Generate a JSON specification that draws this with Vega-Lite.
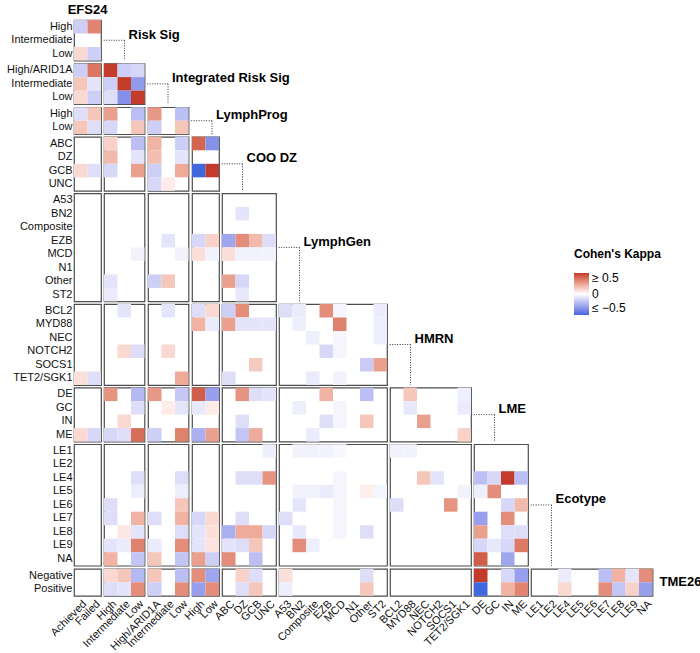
{
"$schema":"https://vega.github.io/schema/vega-lite/v6.json",
"padding":{"left":5,"top":3,"right":2,"bottom":2},
"config":{"font":"Liberation Sans","view":{"stroke":"#4d4d4d","strokeWidth":1.2},
"scale":{"bandPaddingInner":0,"bandPaddingOuter":0},
"axis":{"ticks":false,"domain":false,"grid":false,"labelFontSize":11,"labelColor":"#111","labelFont":"Liberation Sans"},
"axisY":{"labelPadding":2},"axisX":{"labelAngle":-45,"labelPadding":2}},
"datasets":{"kappa":[
{"rg":"Risk Sig","cg":"EFS24","r":"High","c":"Achieved","k":-0.15},{"rg":"Risk Sig","cg":"EFS24","r":"High","c":"Failed","k":0.32},{"rg":"Risk Sig","cg":"EFS24","r":"Low","c":"Achieved","k":0.1},{"rg":"Risk Sig","cg":"EFS24","r":"Low","c":"Failed","k":-0.15},
{"rg":"Integrated Risk Sig","cg":"EFS24","r":"High/ARID1A","c":"Achieved","k":-0.15},{"rg":"Integrated Risk Sig","cg":"EFS24","r":"High/ARID1A","c":"Failed","k":0.36},{"rg":"Integrated Risk Sig","cg":"EFS24","r":"Intermediate","c":"Achieved","k":0.15},{"rg":"Integrated Risk Sig","cg":"EFS24","r":"Intermediate","c":"Failed","k":-0.08},{"rg":"Integrated Risk Sig","cg":"EFS24","r":"Low","c":"Achieved","k":0.1},{"rg":"Integrated Risk Sig","cg":"EFS24","r":"Low","c":"Failed","k":-0.15},
{"rg":"Integrated Risk Sig","cg":"Risk Sig","r":"High/ARID1A","c":"High","k":0.55},{"rg":"Integrated Risk Sig","cg":"Risk Sig","r":"High/ARID1A","c":"Intermediate","k":-0.15},{"rg":"Integrated Risk Sig","cg":"Risk Sig","r":"High/ARID1A","c":"Low","k":-0.12},{"rg":"Integrated Risk Sig","cg":"Risk Sig","r":"Intermediate","c":"High","k":-0.15},{"rg":"Integrated Risk Sig","cg":"Risk Sig","r":"Intermediate","c":"Intermediate","k":0.52},{"rg":"Integrated Risk Sig","cg":"Risk Sig","r":"Intermediate","c":"Low","k":-0.32},{"rg":"Integrated Risk Sig","cg":"Risk Sig","r":"Low","c":"High","k":-0.1},{"rg":"Integrated Risk Sig","cg":"Risk Sig","r":"Low","c":"Intermediate","k":-0.35},{"rg":"Integrated Risk Sig","cg":"Risk Sig","r":"Low","c":"Low","k":0.55},
{"rg":"LymphProg","cg":"EFS24","r":"High","c":"Achieved","k":-0.1},{"rg":"LymphProg","cg":"EFS24","r":"High","c":"Failed","k":0.15},{"rg":"LymphProg","cg":"EFS24","r":"Low","c":"Achieved","k":0.15},{"rg":"LymphProg","cg":"EFS24","r":"Low","c":"Failed","k":-0.1},
{"rg":"LymphProg","cg":"Risk Sig","r":"High","c":"High","k":0.25},{"rg":"LymphProg","cg":"Risk Sig","r":"High","c":"Low","k":-0.2},{"rg":"LymphProg","cg":"Risk Sig","r":"Low","c":"High","k":-0.12},{"rg":"LymphProg","cg":"Risk Sig","r":"Low","c":"Low","k":0.15},
{"rg":"LymphProg","cg":"Integrated Risk Sig","r":"High","c":"High/ARID1A","k":0.27},{"rg":"LymphProg","cg":"Integrated Risk Sig","r":"High","c":"Low","k":-0.2},{"rg":"LymphProg","cg":"Integrated Risk Sig","r":"Low","c":"High/ARID1A","k":-0.15},{"rg":"LymphProg","cg":"Integrated Risk Sig","r":"Low","c":"Low","k":0.15},
{"rg":"COO DZ","cg":"EFS24","r":"GCB","c":"Achieved","k":0.1},{"rg":"COO DZ","cg":"EFS24","r":"GCB","c":"Failed","k":-0.1},
{"rg":"COO DZ","cg":"Risk Sig","r":"ABC","c":"High","k":0.12},{"rg":"COO DZ","cg":"Risk Sig","r":"ABC","c":"Low","k":-0.2},{"rg":"COO DZ","cg":"Risk Sig","r":"DZ","c":"High","k":0.18},{"rg":"COO DZ","cg":"Risk Sig","r":"DZ","c":"Low","k":-0.08},{"rg":"COO DZ","cg":"Risk Sig","r":"GCB","c":"High","k":-0.12},{"rg":"COO DZ","cg":"Risk Sig","r":"GCB","c":"Low","k":0.25},
{"rg":"COO DZ","cg":"Integrated Risk Sig","r":"ABC","c":"High/ARID1A","k":0.2},{"rg":"COO DZ","cg":"Integrated Risk Sig","r":"ABC","c":"Low","k":-0.15},{"rg":"COO DZ","cg":"Integrated Risk Sig","r":"DZ","c":"High/ARID1A","k":0.17},{"rg":"COO DZ","cg":"Integrated Risk Sig","r":"DZ","c":"Low","k":-0.08},{"rg":"COO DZ","cg":"Integrated Risk Sig","r":"GCB","c":"High/ARID1A","k":-0.15},{"rg":"COO DZ","cg":"Integrated Risk Sig","r":"GCB","c":"Low","k":0.22},{"rg":"COO DZ","cg":"Integrated Risk Sig","r":"UNC","c":"High/ARID1A","k":-0.12},{"rg":"COO DZ","cg":"Integrated Risk Sig","r":"UNC","c":"Intermediate","k":0.05},
{"rg":"COO DZ","cg":"LymphProg","r":"ABC","c":"High","k":0.4},{"rg":"COO DZ","cg":"LymphProg","r":"ABC","c":"Low","k":-0.35},{"rg":"COO DZ","cg":"LymphProg","r":"GCB","c":"High","k":-0.55},{"rg":"COO DZ","cg":"LymphProg","r":"GCB","c":"Low","k":0.5},
{"rg":"LymphGen","cg":"Risk Sig","r":"MCD","c":"Low","k":-0.04},{"rg":"LymphGen","cg":"Risk Sig","r":"Other","c":"High","k":-0.08},{"rg":"LymphGen","cg":"Risk Sig","r":"ST2","c":"High","k":-0.06},
{"rg":"LymphGen","cg":"Integrated Risk Sig","r":"EZB","c":"Intermediate","k":-0.08},{"rg":"LymphGen","cg":"Integrated Risk Sig","r":"MCD","c":"Low","k":-0.04},{"rg":"LymphGen","cg":"Integrated Risk Sig","r":"Other","c":"High/ARID1A","k":-0.15},{"rg":"LymphGen","cg":"Integrated Risk Sig","r":"Other","c":"Intermediate","k":0.15},
{"rg":"LymphGen","cg":"LymphProg","r":"EZB","c":"High","k":-0.12},{"rg":"LymphGen","cg":"LymphProg","r":"EZB","c":"Low","k":0.12},{"rg":"LymphGen","cg":"LymphProg","r":"MCD","c":"High","k":0.08},{"rg":"LymphGen","cg":"LymphProg","r":"MCD","c":"Low","k":-0.04},
{"rg":"LymphGen","cg":"COO DZ","r":"BN2","c":"DZ","k":-0.08},{"rg":"LymphGen","cg":"COO DZ","r":"EZB","c":"ABC","k":-0.28},{"rg":"LymphGen","cg":"COO DZ","r":"EZB","c":"DZ","k":0.3},{"rg":"LymphGen","cg":"COO DZ","r":"EZB","c":"GCB","k":0.18},{"rg":"LymphGen","cg":"COO DZ","r":"EZB","c":"UNC","k":-0.1},{"rg":"LymphGen","cg":"COO DZ","r":"MCD","c":"ABC","k":0.08},{"rg":"LymphGen","cg":"COO DZ","r":"MCD","c":"DZ","k":-0.04},{"rg":"LymphGen","cg":"COO DZ","r":"MCD","c":"GCB","k":-0.04},{"rg":"LymphGen","cg":"COO DZ","r":"MCD","c":"UNC","k":-0.04},{"rg":"LymphGen","cg":"COO DZ","r":"Other","c":"ABC","k":0.25},{"rg":"LymphGen","cg":"COO DZ","r":"Other","c":"DZ","k":-0.12},{"rg":"LymphGen","cg":"COO DZ","r":"ST2","c":"DZ","k":-0.07},
{"rg":"HMRN","cg":"EFS24","r":"TET2/SGK1","c":"Achieved","k":0.08},{"rg":"HMRN","cg":"EFS24","r":"TET2/SGK1","c":"Failed","k":-0.1},
{"rg":"HMRN","cg":"Risk Sig","r":"BCL2","c":"Intermediate","k":-0.08},{"rg":"HMRN","cg":"Risk Sig","r":"NOTCH2","c":"Intermediate","k":0.1},{"rg":"HMRN","cg":"Risk Sig","r":"NOTCH2","c":"Low","k":-0.1},
{"rg":"HMRN","cg":"Integrated Risk Sig","r":"BCL2","c":"Intermediate","k":-0.08},{"rg":"HMRN","cg":"Integrated Risk Sig","r":"NOTCH2","c":"Intermediate","k":0.1},{"rg":"HMRN","cg":"Integrated Risk Sig","r":"TET2/SGK1","c":"Low","k":0.22},
{"rg":"HMRN","cg":"LymphProg","r":"BCL2","c":"High","k":-0.1},{"rg":"HMRN","cg":"LymphProg","r":"BCL2","c":"Low","k":0.1},{"rg":"HMRN","cg":"LymphProg","r":"MYD88","c":"High","k":0.2},{"rg":"HMRN","cg":"LymphProg","r":"MYD88","c":"Low","k":-0.06},
{"rg":"HMRN","cg":"COO DZ","r":"BCL2","c":"ABC","k":-0.15},{"rg":"HMRN","cg":"COO DZ","r":"BCL2","c":"DZ","k":0.3},{"rg":"HMRN","cg":"COO DZ","r":"MYD88","c":"ABC","k":0.25},{"rg":"HMRN","cg":"COO DZ","r":"MYD88","c":"DZ","k":-0.08},{"rg":"HMRN","cg":"COO DZ","r":"MYD88","c":"GCB","k":-0.08},{"rg":"HMRN","cg":"COO DZ","r":"MYD88","c":"UNC","k":-0.08},{"rg":"HMRN","cg":"COO DZ","r":"SOCS1","c":"GCB","k":0.14},{"rg":"HMRN","cg":"COO DZ","r":"TET2/SGK1","c":"ABC","k":-0.1},
{"rg":"HMRN","cg":"LymphGen","r":"BCL2","c":"A53","k":-0.1},{"rg":"HMRN","cg":"LymphGen","r":"BCL2","c":"BN2","k":-0.06},{"rg":"HMRN","cg":"LymphGen","r":"BCL2","c":"EZB","k":0.3},{"rg":"HMRN","cg":"LymphGen","r":"BCL2","c":"MCD","k":-0.03},{"rg":"HMRN","cg":"LymphGen","r":"BCL2","c":"ST2","k":-0.06},{"rg":"HMRN","cg":"LymphGen","r":"MYD88","c":"BN2","k":-0.05},{"rg":"HMRN","cg":"LymphGen","r":"MYD88","c":"MCD","k":0.33},{"rg":"HMRN","cg":"LymphGen","r":"MYD88","c":"ST2","k":-0.05},{"rg":"HMRN","cg":"LymphGen","r":"NEC","c":"Composite","k":-0.05},{"rg":"HMRN","cg":"LymphGen","r":"NEC","c":"MCD","k":-0.03},{"rg":"HMRN","cg":"LymphGen","r":"NEC","c":"ST2","k":-0.05},{"rg":"HMRN","cg":"LymphGen","r":"NOTCH2","c":"EZB","k":-0.12},{"rg":"HMRN","cg":"LymphGen","r":"NOTCH2","c":"MCD","k":-0.03},{"rg":"HMRN","cg":"LymphGen","r":"SOCS1","c":"Other","k":-0.16},{"rg":"HMRN","cg":"LymphGen","r":"SOCS1","c":"ST2","k":0.25},{"rg":"HMRN","cg":"LymphGen","r":"TET2/SGK1","c":"Composite","k":-0.06},{"rg":"HMRN","cg":"LymphGen","r":"TET2/SGK1","c":"MCD","k":-0.04},
{"rg":"LME","cg":"EFS24","r":"ME","c":"Achieved","k":0.1},{"rg":"LME","cg":"EFS24","r":"ME","c":"Failed","k":-0.12},
{"rg":"LME","cg":"Risk Sig","r":"DE","c":"High","k":0.28},{"rg":"LME","cg":"Risk Sig","r":"DE","c":"Low","k":-0.22},{"rg":"LME","cg":"Risk Sig","r":"GC","c":"Low","k":-0.1},{"rg":"LME","cg":"Risk Sig","r":"IN","c":"Intermediate","k":0.1},{"rg":"LME","cg":"Risk Sig","r":"ME","c":"High","k":-0.12},{"rg":"LME","cg":"Risk Sig","r":"ME","c":"Intermediate","k":-0.1},{"rg":"LME","cg":"Risk Sig","r":"ME","c":"Low","k":0.38},
{"rg":"LME","cg":"Integrated Risk Sig","r":"DE","c":"High/ARID1A","k":0.27},{"rg":"LME","cg":"Integrated Risk Sig","r":"DE","c":"Low","k":-0.17},{"rg":"LME","cg":"Integrated Risk Sig","r":"GC","c":"Intermediate","k":0.05},{"rg":"LME","cg":"Integrated Risk Sig","r":"GC","c":"Low","k":-0.08},{"rg":"LME","cg":"Integrated Risk Sig","r":"ME","c":"High/ARID1A","k":-0.15},{"rg":"LME","cg":"Integrated Risk Sig","r":"ME","c":"Low","k":0.33},
{"rg":"LME","cg":"LymphProg","r":"DE","c":"High","k":0.42},{"rg":"LME","cg":"LymphProg","r":"DE","c":"Low","k":-0.3},{"rg":"LME","cg":"LymphProg","r":"GC","c":"High","k":-0.07},{"rg":"LME","cg":"LymphProg","r":"GC","c":"Low","k":0.05},{"rg":"LME","cg":"LymphProg","r":"ME","c":"High","k":-0.25},{"rg":"LME","cg":"LymphProg","r":"ME","c":"Low","k":0.25},
{"rg":"LME","cg":"COO DZ","r":"DE","c":"DZ","k":0.28},{"rg":"LME","cg":"COO DZ","r":"DE","c":"GCB","k":-0.1},{"rg":"LME","cg":"COO DZ","r":"DE","c":"UNC","k":-0.08},{"rg":"LME","cg":"COO DZ","r":"IN","c":"DZ","k":-0.1},{"rg":"LME","cg":"COO DZ","r":"ME","c":"DZ","k":-0.18},{"rg":"LME","cg":"COO DZ","r":"ME","c":"GCB","k":0.22},
{"rg":"LME","cg":"LymphGen","r":"DE","c":"EZB","k":0.2},{"rg":"LME","cg":"LymphGen","r":"DE","c":"Other","k":-0.2},{"rg":"LME","cg":"LymphGen","r":"GC","c":"BN2","k":-0.05},{"rg":"LME","cg":"LymphGen","r":"GC","c":"MCD","k":-0.03},{"rg":"LME","cg":"LymphGen","r":"IN","c":"EZB","k":-0.1},{"rg":"LME","cg":"LymphGen","r":"IN","c":"MCD","k":-0.03},{"rg":"LME","cg":"LymphGen","r":"IN","c":"Other","k":0.15},{"rg":"LME","cg":"LymphGen","r":"ME","c":"Composite","k":-0.06},
{"rg":"LME","cg":"HMRN","r":"DE","c":"MYD88","k":0.15},{"rg":"LME","cg":"HMRN","r":"DE","c":"TET2/SGK1","k":-0.05},{"rg":"LME","cg":"HMRN","r":"GC","c":"MYD88","k":-0.07},{"rg":"LME","cg":"HMRN","r":"GC","c":"TET2/SGK1","k":-0.06},{"rg":"LME","cg":"HMRN","r":"IN","c":"NEC","k":0.25},{"rg":"LME","cg":"HMRN","r":"ME","c":"TET2/SGK1","k":0.12},
{"rg":"Ecotype","cg":"Risk Sig","r":"LE4","c":"Low","k":-0.1},{"rg":"Ecotype","cg":"Risk Sig","r":"LE5","c":"Low","k":-0.05},{"rg":"Ecotype","cg":"Risk Sig","r":"LE6","c":"High","k":-0.1},{"rg":"Ecotype","cg":"Risk Sig","r":"LE7","c":"High","k":-0.1},{"rg":"Ecotype","cg":"Risk Sig","r":"LE7","c":"Low","k":0.2},{"rg":"Ecotype","cg":"Risk Sig","r":"LE8","c":"Intermediate","k":0.06},{"rg":"Ecotype","cg":"Risk Sig","r":"LE8","c":"Low","k":-0.08},{"rg":"Ecotype","cg":"Risk Sig","r":"LE9","c":"High","k":-0.08},{"rg":"Ecotype","cg":"Risk Sig","r":"LE9","c":"Intermediate","k":-0.06},{"rg":"Ecotype","cg":"Risk Sig","r":"LE9","c":"Low","k":0.33},{"rg":"Ecotype","cg":"Risk Sig","r":"NA","c":"High","k":0.2},{"rg":"Ecotype","cg":"Risk Sig","r":"NA","c":"Low","k":-0.18},
{"rg":"Ecotype","cg":"Integrated Risk Sig","r":"LE4","c":"Low","k":-0.1},{"rg":"Ecotype","cg":"Integrated Risk Sig","r":"LE5","c":"Low","k":-0.05},{"rg":"Ecotype","cg":"Integrated Risk Sig","r":"LE6","c":"Low","k":0.15},{"rg":"Ecotype","cg":"Integrated Risk Sig","r":"LE7","c":"High/ARID1A","k":-0.1},{"rg":"Ecotype","cg":"Integrated Risk Sig","r":"LE7","c":"Low","k":0.2},{"rg":"Ecotype","cg":"Integrated Risk Sig","r":"LE8","c":"Low","k":-0.1},{"rg":"Ecotype","cg":"Integrated Risk Sig","r":"LE9","c":"High/ARID1A","k":-0.06},{"rg":"Ecotype","cg":"Integrated Risk Sig","r":"LE9","c":"Low","k":0.3},{"rg":"Ecotype","cg":"Integrated Risk Sig","r":"NA","c":"High/ARID1A","k":0.15},{"rg":"Ecotype","cg":"Integrated Risk Sig","r":"NA","c":"Low","k":-0.18},
{"rg":"Ecotype","cg":"LymphProg","r":"LE7","c":"High","k":-0.12},{"rg":"Ecotype","cg":"LymphProg","r":"LE7","c":"Low","k":0.1},{"rg":"Ecotype","cg":"LymphProg","r":"LE8","c":"High","k":-0.08},{"rg":"Ecotype","cg":"LymphProg","r":"LE8","c":"Low","k":0.08},{"rg":"Ecotype","cg":"LymphProg","r":"LE9","c":"High","k":-0.08},{"rg":"Ecotype","cg":"LymphProg","r":"LE9","c":"Low","k":0.07},{"rg":"Ecotype","cg":"LymphProg","r":"NA","c":"High","k":0.25},{"rg":"Ecotype","cg":"LymphProg","r":"NA","c":"Low","k":-0.15},
{"rg":"Ecotype","cg":"COO DZ","r":"LE1","c":"UNC","k":-0.05},{"rg":"Ecotype","cg":"COO DZ","r":"LE4","c":"DZ","k":-0.1},{"rg":"Ecotype","cg":"COO DZ","r":"LE4","c":"GCB","k":-0.1},{"rg":"Ecotype","cg":"COO DZ","r":"LE4","c":"UNC","k":0.28},{"rg":"Ecotype","cg":"COO DZ","r":"LE7","c":"DZ","k":-0.1},{"rg":"Ecotype","cg":"COO DZ","r":"LE8","c":"ABC","k":-0.25},{"rg":"Ecotype","cg":"COO DZ","r":"LE8","c":"DZ","k":0.22},{"rg":"Ecotype","cg":"COO DZ","r":"LE8","c":"GCB","k":0.22},{"rg":"Ecotype","cg":"COO DZ","r":"LE8","c":"UNC","k":-0.12},{"rg":"Ecotype","cg":"COO DZ","r":"LE9","c":"ABC","k":-0.08},{"rg":"Ecotype","cg":"COO DZ","r":"LE9","c":"DZ","k":-0.1},{"rg":"Ecotype","cg":"COO DZ","r":"LE9","c":"GCB","k":0.15},{"rg":"Ecotype","cg":"COO DZ","r":"NA","c":"ABC","k":0.3},{"rg":"Ecotype","cg":"COO DZ","r":"NA","c":"GCB","k":-0.2},
{"rg":"Ecotype","cg":"LymphGen","r":"LE1","c":"BN2","k":-0.04},{"rg":"Ecotype","cg":"LymphGen","r":"LE1","c":"Composite","k":-0.04},{"rg":"Ecotype","cg":"LymphGen","r":"LE1","c":"EZB","k":-0.04},{"rg":"Ecotype","cg":"LymphGen","r":"LE1","c":"MCD","k":-0.02},{"rg":"Ecotype","cg":"LymphGen","r":"LE4","c":"MCD","k":-0.03},{"rg":"Ecotype","cg":"LymphGen","r":"LE5","c":"BN2","k":-0.04},{"rg":"Ecotype","cg":"LymphGen","r":"LE5","c":"Composite","k":-0.04},{"rg":"Ecotype","cg":"LymphGen","r":"LE5","c":"EZB","k":-0.06},{"rg":"Ecotype","cg":"LymphGen","r":"LE5","c":"MCD","k":-0.03},{"rg":"Ecotype","cg":"LymphGen","r":"LE5","c":"Other","k":0.04},{"rg":"Ecotype","cg":"LymphGen","r":"LE5","c":"ST2","k":-0.03},{"rg":"Ecotype","cg":"LymphGen","r":"LE6","c":"BN2","k":-0.08},{"rg":"Ecotype","cg":"LymphGen","r":"LE6","c":"MCD","k":-0.03},{"rg":"Ecotype","cg":"LymphGen","r":"LE7","c":"A53","k":-0.1},{"rg":"Ecotype","cg":"LymphGen","r":"LE7","c":"MCD","k":-0.03},{"rg":"Ecotype","cg":"LymphGen","r":"LE8","c":"BN2","k":-0.07},{"rg":"Ecotype","cg":"LymphGen","r":"LE8","c":"MCD","k":-0.03},{"rg":"Ecotype","cg":"LymphGen","r":"LE8","c":"Other","k":-0.1},{"rg":"Ecotype","cg":"LymphGen","r":"LE9","c":"BN2","k":0.3},{"rg":"Ecotype","cg":"LymphGen","r":"LE9","c":"Composite","k":-0.05},
{"rg":"Ecotype","cg":"HMRN","r":"LE1","c":"BCL2","k":-0.04},{"rg":"Ecotype","cg":"HMRN","r":"LE1","c":"MYD88","k":-0.04},{"rg":"Ecotype","cg":"HMRN","r":"LE4","c":"NEC","k":0.15},{"rg":"Ecotype","cg":"HMRN","r":"LE4","c":"NOTCH2","k":-0.08},{"rg":"Ecotype","cg":"HMRN","r":"LE5","c":"TET2/SGK1","k":-0.04},{"rg":"Ecotype","cg":"HMRN","r":"LE6","c":"BCL2","k":-0.1},{"rg":"Ecotype","cg":"HMRN","r":"LE6","c":"SOCS1","k":0.28},
{"rg":"Ecotype","cg":"LME","r":"LE4","c":"DE","k":-0.2},{"rg":"Ecotype","cg":"LME","r":"LE4","c":"GC","k":-0.12},{"rg":"Ecotype","cg":"LME","r":"LE4","c":"IN","k":0.55},{"rg":"Ecotype","cg":"LME","r":"LE4","c":"ME","k":-0.2},{"rg":"Ecotype","cg":"LME","r":"LE5","c":"DE","k":-0.05},{"rg":"Ecotype","cg":"LME","r":"LE5","c":"GC","k":0.3},{"rg":"Ecotype","cg":"LME","r":"LE6","c":"IN","k":-0.12},{"rg":"Ecotype","cg":"LME","r":"LE6","c":"ME","k":0.18},{"rg":"Ecotype","cg":"LME","r":"LE7","c":"DE","k":-0.3},{"rg":"Ecotype","cg":"LME","r":"LE7","c":"IN","k":0.3},{"rg":"Ecotype","cg":"LME","r":"LE8","c":"DE","k":0.25},{"rg":"Ecotype","cg":"LME","r":"LE8","c":"IN","k":-0.1},{"rg":"Ecotype","cg":"LME","r":"LE8","c":"ME","k":-0.1},{"rg":"Ecotype","cg":"LME","r":"LE9","c":"DE","k":-0.12},{"rg":"Ecotype","cg":"LME","r":"LE9","c":"GC","k":-0.07},{"rg":"Ecotype","cg":"LME","r":"LE9","c":"IN","k":-0.12},{"rg":"Ecotype","cg":"LME","r":"LE9","c":"ME","k":0.35},{"rg":"Ecotype","cg":"LME","r":"NA","c":"DE","k":0.42},{"rg":"Ecotype","cg":"LME","r":"NA","c":"IN","k":-0.28},
{"rg":"TME26","cg":"Risk Sig","r":"Negative","c":"High","k":0.1},{"rg":"TME26","cg":"Risk Sig","r":"Negative","c":"Intermediate","k":0.15},{"rg":"TME26","cg":"Risk Sig","r":"Negative","c":"Low","k":-0.22},{"rg":"TME26","cg":"Risk Sig","r":"Positive","c":"High","k":-0.1},{"rg":"TME26","cg":"Risk Sig","r":"Positive","c":"Intermediate","k":-0.08},{"rg":"TME26","cg":"Risk Sig","r":"Positive","c":"Low","k":0.3},
{"rg":"TME26","cg":"Integrated Risk Sig","r":"Negative","c":"High/ARID1A","k":0.15},{"rg":"TME26","cg":"Integrated Risk Sig","r":"Negative","c":"Low","k":-0.2},{"rg":"TME26","cg":"Integrated Risk Sig","r":"Positive","c":"High/ARID1A","k":-0.15},{"rg":"TME26","cg":"Integrated Risk Sig","r":"Positive","c":"Low","k":0.3},
{"rg":"TME26","cg":"LymphProg","r":"Negative","c":"High","k":0.3},{"rg":"TME26","cg":"LymphProg","r":"Negative","c":"Low","k":-0.28},{"rg":"TME26","cg":"LymphProg","r":"Positive","c":"High","k":-0.3},{"rg":"TME26","cg":"LymphProg","r":"Positive","c":"Low","k":0.3},
{"rg":"TME26","cg":"COO DZ","r":"Negative","c":"DZ","k":0.12},{"rg":"TME26","cg":"COO DZ","r":"Negative","c":"GCB","k":-0.1},{"rg":"TME26","cg":"COO DZ","r":"Positive","c":"DZ","k":-0.1},{"rg":"TME26","cg":"COO DZ","r":"Positive","c":"GCB","k":0.15},
{"rg":"TME26","cg":"LymphGen","r":"Negative","c":"A53","k":0.08},{"rg":"TME26","cg":"LymphGen","r":"Negative","c":"Other","k":-0.1},{"rg":"TME26","cg":"LymphGen","r":"Positive","c":"A53","k":-0.05},{"rg":"TME26","cg":"LymphGen","r":"Positive","c":"Other","k":0.15},
{"rg":"TME26","cg":"LME","r":"Negative","c":"DE","k":0.5},{"rg":"TME26","cg":"LME","r":"Negative","c":"IN","k":-0.12},{"rg":"TME26","cg":"LME","r":"Negative","c":"ME","k":-0.3},{"rg":"TME26","cg":"LME","r":"Positive","c":"DE","k":-0.55},{"rg":"TME26","cg":"LME","r":"Positive","c":"IN","k":0.2},{"rg":"TME26","cg":"LME","r":"Positive","c":"ME","k":0.32},
{"rg":"TME26","cg":"Ecotype","r":"Negative","c":"LE4","k":-0.06},{"rg":"TME26","cg":"Ecotype","r":"Negative","c":"LE7","k":-0.2},{"rg":"TME26","cg":"Ecotype","r":"Negative","c":"LE8","k":0.2},{"rg":"TME26","cg":"Ecotype","r":"Negative","c":"LE9","k":-0.08},{"rg":"TME26","cg":"Ecotype","r":"Negative","c":"NA","k":0.3},{"rg":"TME26","cg":"Ecotype","r":"Positive","c":"LE4","k":0.1},{"rg":"TME26","cg":"Ecotype","r":"Positive","c":"LE7","k":0.3},{"rg":"TME26","cg":"Ecotype","r":"Positive","c":"LE8","k":-0.18},{"rg":"TME26","cg":"Ecotype","r":"Positive","c":"LE9","k":0.12},{"rg":"TME26","cg":"Ecotype","r":"Positive","c":"NA","k":-0.3}
],"empty":[]},
"columns":9,"spacing":{"row":2.6,"column":3},"bounds":"flush",
"concat":[
{"width":{"step":13.5},"height":{"step":13.5},"layer":[
{"data":{"name":"kappa"},"transform":[{"filter":"datum.rg==='Risk Sig'&&datum.cg==='EFS24'"}],"mark":"rect","encoding":{"x":{"field":"c","type":"nominal","scale":{"domain":["Achieved","Failed"]},"axis":null},"y":{"field":"r","type":"nominal","scale":{"domain":["High","Intermediate","Low"]},"title":null},"color":{"field":"k","type":"quantitative","scale":{"domain":[-0.5,0,0.5],"range":["#3F67DE","#FFFFFF","#C23B2B"],"clamp":true,"interpolate":"lab"},"legend":{"title":"Cohen's Kappa","orient":"none","legendX":500,"legendY":229,"direction":"vertical","values":[-0.5,0,0.5],"labelExpr":"datum.value>=0.5?'≥ 0.5':(datum.value<=-0.5?'≤ −0.5':'0')","gradientLength":42,"gradientThickness":15,"titleFontSize":12,"titleFontWeight":"bold","titleColor":"#000","labelFontSize":12,"labelColor":"#000","labelOverlap":false,"labelOffset":3,"labelBaseline":"middle","titlePadding":12}}}},
{"data":{"values":[{}]},"mark":{"type":"text","text":"EFS24","align":"center","baseline":"alphabetic","dy":-6,"fontSize":13,"fontWeight":"bold","color":"#000"},"encoding":{"x":{"datum":"Achieved","type":"nominal","bandPosition":1,"axis":null},"y":{"datum":"High","type":"nominal","bandPosition":0,"title":null}}},
{"data":{"values":[{}]},"mark":{"type":"rule","strokeDash":[1,1.5],"color":"#333","xOffset":2.7,"x2Offset":23.5},"encoding":{"x":{"datum":"Failed","type":"nominal","bandPosition":1,"axis":null},"x2":{"datum":"Failed","bandPosition":1},"y":{"datum":"Intermediate","type":"nominal","bandPosition":0.5,"title":null}}},
{"data":{"values":[{}]},"mark":{"type":"rule","strokeDash":[1,1.5],"color":"#333","xOffset":23.5},"encoding":{"x":{"datum":"Failed","type":"nominal","bandPosition":1,"axis":null},"y":{"datum":"Intermediate","type":"nominal","bandPosition":0.5,"title":null},"y2":{"datum":"Low","bandPosition":1}}},
{"data":{"values":[{}]},"mark":{"type":"text","text":"Risk Sig","align":"left","baseline":"alphabetic","dx":27.5,"dy":-1.5,"fontSize":13,"fontWeight":"bold","color":"#000"},"encoding":{"x":{"datum":"Failed","type":"nominal","bandPosition":1,"axis":null},"y":{"datum":"Intermediate","type":"nominal","bandPosition":0.5,"title":null}}}
]},
{"data":{"name":"empty"},"mark":"rect","width":1,"height":1,"view":{"stroke":null}},
{"data":{"name":"empty"},"mark":"rect","width":1,"height":1,"view":{"stroke":null}},
{"data":{"name":"empty"},"mark":"rect","width":1,"height":1,"view":{"stroke":null}},
{"data":{"name":"empty"},"mark":"rect","width":1,"height":1,"view":{"stroke":null}},
{"data":{"name":"empty"},"mark":"rect","width":1,"height":1,"view":{"stroke":null}},
{"data":{"name":"empty"},"mark":"rect","width":1,"height":1,"view":{"stroke":null}},
{"data":{"name":"empty"},"mark":"rect","width":1,"height":1,"view":{"stroke":null}},
{"data":{"name":"empty"},"mark":"rect","width":1,"height":1,"view":{"stroke":null}},

{"data":{"name":"kappa"},"transform":[{"filter":"datum.rg==='Integrated Risk Sig'&&datum.cg==='EFS24'"}],"width":{"step":13.5},"height":{"step":13.5},"mark":"rect","encoding":{"x":{"field":"c","type":"nominal","scale":{"domain":["Achieved","Failed"]},"axis":null},"y":{"field":"r","type":"nominal","scale":{"domain":["High/ARID1A","Intermediate","Low"]},"title":null},"color":{"field":"k","type":"quantitative","scale":{"domain":[-0.5,0,0.5],"range":["#3F67DE","#FFFFFF","#C23B2B"],"clamp":true,"interpolate":"lab"},"legend":null}}},
{"width":{"step":13.5},"height":{"step":13.5},"layer":[
{"data":{"name":"kappa"},"transform":[{"filter":"datum.rg==='Integrated Risk Sig'&&datum.cg==='Risk Sig'"}],"mark":"rect","encoding":{"x":{"field":"c","type":"nominal","scale":{"domain":["High","Intermediate","Low"]},"axis":null},"y":{"field":"r","type":"nominal","scale":{"domain":["High/ARID1A","Intermediate","Low"]},"axis":null},"color":{"field":"k","type":"quantitative","scale":{"domain":[-0.5,0,0.5],"range":["#3F67DE","#FFFFFF","#C23B2B"],"clamp":true,"interpolate":"lab"},"legend":null}}},
{"data":{"values":[{}]},"mark":{"type":"rule","strokeDash":[1,1.5],"color":"#333","xOffset":2.7,"x2Offset":23.5},"encoding":{"x":{"datum":"Low","type":"nominal","bandPosition":1,"axis":null},"x2":{"datum":"Low","bandPosition":1},"y":{"datum":"Intermediate","type":"nominal","bandPosition":0.5,"axis":null}}},
{"data":{"values":[{}]},"mark":{"type":"rule","strokeDash":[1,1.5],"color":"#333","xOffset":23.5},"encoding":{"x":{"datum":"Low","type":"nominal","bandPosition":1,"axis":null},"y":{"datum":"Intermediate","type":"nominal","bandPosition":0.5,"axis":null},"y2":{"datum":"Low","bandPosition":1}}},
{"data":{"values":[{}]},"mark":{"type":"text","text":"Integrated Risk Sig","align":"left","baseline":"alphabetic","dx":27.5,"dy":-1.5,"fontSize":13,"fontWeight":"bold","color":"#000"},"encoding":{"x":{"datum":"Low","type":"nominal","bandPosition":1,"axis":null},"y":{"datum":"Intermediate","type":"nominal","bandPosition":0.5,"axis":null}}}
]},
{"data":{"name":"empty"},"mark":"rect","width":1,"height":1,"view":{"stroke":null}},
{"data":{"name":"empty"},"mark":"rect","width":1,"height":1,"view":{"stroke":null}},
{"data":{"name":"empty"},"mark":"rect","width":1,"height":1,"view":{"stroke":null}},
{"data":{"name":"empty"},"mark":"rect","width":1,"height":1,"view":{"stroke":null}},
{"data":{"name":"empty"},"mark":"rect","width":1,"height":1,"view":{"stroke":null}},
{"data":{"name":"empty"},"mark":"rect","width":1,"height":1,"view":{"stroke":null}},
{"data":{"name":"empty"},"mark":"rect","width":1,"height":1,"view":{"stroke":null}},

{"data":{"name":"kappa"},"transform":[{"filter":"datum.rg==='LymphProg'&&datum.cg==='EFS24'"}],"width":{"step":13.5},"height":{"step":13.5},"mark":"rect","encoding":{"x":{"field":"c","type":"nominal","scale":{"domain":["Achieved","Failed"]},"axis":null},"y":{"field":"r","type":"nominal","scale":{"domain":["High","Low"]},"title":null},"color":{"field":"k","type":"quantitative","scale":{"domain":[-0.5,0,0.5],"range":["#3F67DE","#FFFFFF","#C23B2B"],"clamp":true,"interpolate":"lab"},"legend":null}}},
{"data":{"name":"kappa"},"transform":[{"filter":"datum.rg==='LymphProg'&&datum.cg==='Risk Sig'"}],"width":{"step":13.5},"height":{"step":13.5},"mark":"rect","encoding":{"x":{"field":"c","type":"nominal","scale":{"domain":["High","Intermediate","Low"]},"axis":null},"y":{"field":"r","type":"nominal","scale":{"domain":["High","Low"]},"axis":null},"color":{"field":"k","type":"quantitative","scale":{"domain":[-0.5,0,0.5],"range":["#3F67DE","#FFFFFF","#C23B2B"],"clamp":true,"interpolate":"lab"},"legend":null}}},
{"width":{"step":13.5},"height":{"step":13.5},"layer":[
{"data":{"name":"kappa"},"transform":[{"filter":"datum.rg==='LymphProg'&&datum.cg==='Integrated Risk Sig'"}],"mark":"rect","encoding":{"x":{"field":"c","type":"nominal","scale":{"domain":["High/ARID1A","Intermediate","Low"]},"axis":null},"y":{"field":"r","type":"nominal","scale":{"domain":["High","Low"]},"axis":null},"color":{"field":"k","type":"quantitative","scale":{"domain":[-0.5,0,0.5],"range":["#3F67DE","#FFFFFF","#C23B2B"],"clamp":true,"interpolate":"lab"},"legend":null}}},
{"data":{"values":[{}]},"mark":{"type":"rule","strokeDash":[1,1.5],"color":"#333","xOffset":2.7,"x2Offset":23.5},"encoding":{"x":{"datum":"Low","type":"nominal","bandPosition":1,"axis":null},"x2":{"datum":"Low","bandPosition":1},"y":{"datum":"High","type":"nominal","bandPosition":1,"axis":null}}},
{"data":{"values":[{}]},"mark":{"type":"rule","strokeDash":[1,1.5],"color":"#333","xOffset":23.5},"encoding":{"x":{"datum":"Low","type":"nominal","bandPosition":1,"axis":null},"y":{"datum":"High","type":"nominal","bandPosition":1,"axis":null},"y2":{"datum":"Low","bandPosition":1}}},
{"data":{"values":[{}]},"mark":{"type":"text","text":"LymphProg","align":"left","baseline":"alphabetic","dx":27.5,"dy":-1.5,"fontSize":13,"fontWeight":"bold","color":"#000"},"encoding":{"x":{"datum":"Low","type":"nominal","bandPosition":1,"axis":null},"y":{"datum":"High","type":"nominal","bandPosition":1,"axis":null}}}
]},
{"data":{"name":"empty"},"mark":"rect","width":1,"height":1,"view":{"stroke":null}},
{"data":{"name":"empty"},"mark":"rect","width":1,"height":1,"view":{"stroke":null}},
{"data":{"name":"empty"},"mark":"rect","width":1,"height":1,"view":{"stroke":null}},
{"data":{"name":"empty"},"mark":"rect","width":1,"height":1,"view":{"stroke":null}},
{"data":{"name":"empty"},"mark":"rect","width":1,"height":1,"view":{"stroke":null}},
{"data":{"name":"empty"},"mark":"rect","width":1,"height":1,"view":{"stroke":null}},

{"data":{"name":"kappa"},"transform":[{"filter":"datum.rg==='COO DZ'&&datum.cg==='EFS24'"}],"width":{"step":13.5},"height":{"step":13.5},"mark":"rect","encoding":{"x":{"field":"c","type":"nominal","scale":{"domain":["Achieved","Failed"]},"axis":null},"y":{"field":"r","type":"nominal","scale":{"domain":["ABC","DZ","GCB","UNC"]},"title":null},"color":{"field":"k","type":"quantitative","scale":{"domain":[-0.5,0,0.5],"range":["#3F67DE","#FFFFFF","#C23B2B"],"clamp":true,"interpolate":"lab"},"legend":null}}},
{"data":{"name":"kappa"},"transform":[{"filter":"datum.rg==='COO DZ'&&datum.cg==='Risk Sig'"}],"width":{"step":13.5},"height":{"step":13.5},"mark":"rect","encoding":{"x":{"field":"c","type":"nominal","scale":{"domain":["High","Intermediate","Low"]},"axis":null},"y":{"field":"r","type":"nominal","scale":{"domain":["ABC","DZ","GCB","UNC"]},"axis":null},"color":{"field":"k","type":"quantitative","scale":{"domain":[-0.5,0,0.5],"range":["#3F67DE","#FFFFFF","#C23B2B"],"clamp":true,"interpolate":"lab"},"legend":null}}},
{"data":{"name":"kappa"},"transform":[{"filter":"datum.rg==='COO DZ'&&datum.cg==='Integrated Risk Sig'"}],"width":{"step":13.5},"height":{"step":13.5},"mark":"rect","encoding":{"x":{"field":"c","type":"nominal","scale":{"domain":["High/ARID1A","Intermediate","Low"]},"axis":null},"y":{"field":"r","type":"nominal","scale":{"domain":["ABC","DZ","GCB","UNC"]},"axis":null},"color":{"field":"k","type":"quantitative","scale":{"domain":[-0.5,0,0.5],"range":["#3F67DE","#FFFFFF","#C23B2B"],"clamp":true,"interpolate":"lab"},"legend":null}}},
{"width":{"step":13.5},"height":{"step":13.5},"layer":[
{"data":{"name":"kappa"},"transform":[{"filter":"datum.rg==='COO DZ'&&datum.cg==='LymphProg'"}],"mark":"rect","encoding":{"x":{"field":"c","type":"nominal","scale":{"domain":["High","Low"]},"axis":null},"y":{"field":"r","type":"nominal","scale":{"domain":["ABC","DZ","GCB","UNC"]},"axis":null},"color":{"field":"k","type":"quantitative","scale":{"domain":[-0.5,0,0.5],"range":["#3F67DE","#FFFFFF","#C23B2B"],"clamp":true,"interpolate":"lab"},"legend":null}}},
{"data":{"values":[{}]},"mark":{"type":"rule","strokeDash":[1,1.5],"color":"#333","xOffset":2.7,"x2Offset":23.5},"encoding":{"x":{"datum":"Low","type":"nominal","bandPosition":1,"axis":null},"x2":{"datum":"Low","bandPosition":1},"y":{"datum":"DZ","type":"nominal","bandPosition":1,"axis":null}}},
{"data":{"values":[{}]},"mark":{"type":"rule","strokeDash":[1,1.5],"color":"#333","xOffset":23.5},"encoding":{"x":{"datum":"Low","type":"nominal","bandPosition":1,"axis":null},"y":{"datum":"DZ","type":"nominal","bandPosition":1,"axis":null},"y2":{"datum":"UNC","bandPosition":1}}},
{"data":{"values":[{}]},"mark":{"type":"text","text":"COO DZ","align":"left","baseline":"alphabetic","dx":27.5,"dy":-1.5,"fontSize":13,"fontWeight":"bold","color":"#000"},"encoding":{"x":{"datum":"Low","type":"nominal","bandPosition":1,"axis":null},"y":{"datum":"DZ","type":"nominal","bandPosition":1,"axis":null}}}
]},
{"data":{"name":"empty"},"mark":"rect","width":1,"height":1,"view":{"stroke":null}},
{"data":{"name":"empty"},"mark":"rect","width":1,"height":1,"view":{"stroke":null}},
{"data":{"name":"empty"},"mark":"rect","width":1,"height":1,"view":{"stroke":null}},
{"data":{"name":"empty"},"mark":"rect","width":1,"height":1,"view":{"stroke":null}},
{"data":{"name":"empty"},"mark":"rect","width":1,"height":1,"view":{"stroke":null}},

{"data":{"name":"kappa"},"transform":[{"filter":"datum.rg==='LymphGen'&&datum.cg==='EFS24'"}],"width":{"step":13.5},"height":{"step":13.5},"mark":"rect","encoding":{"x":{"field":"c","type":"nominal","scale":{"domain":["Achieved","Failed"]},"axis":null},"y":{"field":"r","type":"nominal","scale":{"domain":["A53","BN2","Composite","EZB","MCD","N1","Other","ST2"]},"title":null},"color":{"field":"k","type":"quantitative","scale":{"domain":[-0.5,0,0.5],"range":["#3F67DE","#FFFFFF","#C23B2B"],"clamp":true,"interpolate":"lab"},"legend":null}}},
{"data":{"name":"kappa"},"transform":[{"filter":"datum.rg==='LymphGen'&&datum.cg==='Risk Sig'"}],"width":{"step":13.5},"height":{"step":13.5},"mark":"rect","encoding":{"x":{"field":"c","type":"nominal","scale":{"domain":["High","Intermediate","Low"]},"axis":null},"y":{"field":"r","type":"nominal","scale":{"domain":["A53","BN2","Composite","EZB","MCD","N1","Other","ST2"]},"axis":null},"color":{"field":"k","type":"quantitative","scale":{"domain":[-0.5,0,0.5],"range":["#3F67DE","#FFFFFF","#C23B2B"],"clamp":true,"interpolate":"lab"},"legend":null}}},
{"data":{"name":"kappa"},"transform":[{"filter":"datum.rg==='LymphGen'&&datum.cg==='Integrated Risk Sig'"}],"width":{"step":13.5},"height":{"step":13.5},"mark":"rect","encoding":{"x":{"field":"c","type":"nominal","scale":{"domain":["High/ARID1A","Intermediate","Low"]},"axis":null},"y":{"field":"r","type":"nominal","scale":{"domain":["A53","BN2","Composite","EZB","MCD","N1","Other","ST2"]},"axis":null},"color":{"field":"k","type":"quantitative","scale":{"domain":[-0.5,0,0.5],"range":["#3F67DE","#FFFFFF","#C23B2B"],"clamp":true,"interpolate":"lab"},"legend":null}}},
{"data":{"name":"kappa"},"transform":[{"filter":"datum.rg==='LymphGen'&&datum.cg==='LymphProg'"}],"width":{"step":13.5},"height":{"step":13.5},"mark":"rect","encoding":{"x":{"field":"c","type":"nominal","scale":{"domain":["High","Low"]},"axis":null},"y":{"field":"r","type":"nominal","scale":{"domain":["A53","BN2","Composite","EZB","MCD","N1","Other","ST2"]},"axis":null},"color":{"field":"k","type":"quantitative","scale":{"domain":[-0.5,0,0.5],"range":["#3F67DE","#FFFFFF","#C23B2B"],"clamp":true,"interpolate":"lab"},"legend":null}}},
{"width":{"step":13.5},"height":{"step":13.5},"layer":[
{"data":{"name":"kappa"},"transform":[{"filter":"datum.rg==='LymphGen'&&datum.cg==='COO DZ'"}],"mark":"rect","encoding":{"x":{"field":"c","type":"nominal","scale":{"domain":["ABC","DZ","GCB","UNC"]},"axis":null},"y":{"field":"r","type":"nominal","scale":{"domain":["A53","BN2","Composite","EZB","MCD","N1","Other","ST2"]},"axis":null},"color":{"field":"k","type":"quantitative","scale":{"domain":[-0.5,0,0.5],"range":["#3F67DE","#FFFFFF","#C23B2B"],"clamp":true,"interpolate":"lab"},"legend":null}}},
{"data":{"values":[{}]},"mark":{"type":"rule","strokeDash":[1,1.5],"color":"#333","xOffset":2.7,"x2Offset":23.5},"encoding":{"x":{"datum":"UNC","type":"nominal","bandPosition":1,"axis":null},"x2":{"datum":"UNC","bandPosition":1},"y":{"datum":"EZB","type":"nominal","bandPosition":1,"axis":null}}},
{"data":{"values":[{}]},"mark":{"type":"rule","strokeDash":[1,1.5],"color":"#333","xOffset":23.5},"encoding":{"x":{"datum":"UNC","type":"nominal","bandPosition":1,"axis":null},"y":{"datum":"EZB","type":"nominal","bandPosition":1,"axis":null},"y2":{"datum":"ST2","bandPosition":1}}},
{"data":{"values":[{}]},"mark":{"type":"text","text":"LymphGen","align":"left","baseline":"alphabetic","dx":27.5,"dy":-1.5,"fontSize":13,"fontWeight":"bold","color":"#000"},"encoding":{"x":{"datum":"UNC","type":"nominal","bandPosition":1,"axis":null},"y":{"datum":"EZB","type":"nominal","bandPosition":1,"axis":null}}}
]},
{"data":{"name":"empty"},"mark":"rect","width":1,"height":1,"view":{"stroke":null}},
{"data":{"name":"empty"},"mark":"rect","width":1,"height":1,"view":{"stroke":null}},
{"data":{"name":"empty"},"mark":"rect","width":1,"height":1,"view":{"stroke":null}},
{"data":{"name":"empty"},"mark":"rect","width":1,"height":1,"view":{"stroke":null}},

{"data":{"name":"kappa"},"transform":[{"filter":"datum.rg==='HMRN'&&datum.cg==='EFS24'"}],"width":{"step":13.5},"height":{"step":13.5},"mark":"rect","encoding":{"x":{"field":"c","type":"nominal","scale":{"domain":["Achieved","Failed"]},"axis":null},"y":{"field":"r","type":"nominal","scale":{"domain":["BCL2","MYD88","NEC","NOTCH2","SOCS1","TET2/SGK1"]},"title":null},"color":{"field":"k","type":"quantitative","scale":{"domain":[-0.5,0,0.5],"range":["#3F67DE","#FFFFFF","#C23B2B"],"clamp":true,"interpolate":"lab"},"legend":null}}},
{"data":{"name":"kappa"},"transform":[{"filter":"datum.rg==='HMRN'&&datum.cg==='Risk Sig'"}],"width":{"step":13.5},"height":{"step":13.5},"mark":"rect","encoding":{"x":{"field":"c","type":"nominal","scale":{"domain":["High","Intermediate","Low"]},"axis":null},"y":{"field":"r","type":"nominal","scale":{"domain":["BCL2","MYD88","NEC","NOTCH2","SOCS1","TET2/SGK1"]},"axis":null},"color":{"field":"k","type":"quantitative","scale":{"domain":[-0.5,0,0.5],"range":["#3F67DE","#FFFFFF","#C23B2B"],"clamp":true,"interpolate":"lab"},"legend":null}}},
{"data":{"name":"kappa"},"transform":[{"filter":"datum.rg==='HMRN'&&datum.cg==='Integrated Risk Sig'"}],"width":{"step":13.5},"height":{"step":13.5},"mark":"rect","encoding":{"x":{"field":"c","type":"nominal","scale":{"domain":["High/ARID1A","Intermediate","Low"]},"axis":null},"y":{"field":"r","type":"nominal","scale":{"domain":["BCL2","MYD88","NEC","NOTCH2","SOCS1","TET2/SGK1"]},"axis":null},"color":{"field":"k","type":"quantitative","scale":{"domain":[-0.5,0,0.5],"range":["#3F67DE","#FFFFFF","#C23B2B"],"clamp":true,"interpolate":"lab"},"legend":null}}},
{"data":{"name":"kappa"},"transform":[{"filter":"datum.rg==='HMRN'&&datum.cg==='LymphProg'"}],"width":{"step":13.5},"height":{"step":13.5},"mark":"rect","encoding":{"x":{"field":"c","type":"nominal","scale":{"domain":["High","Low"]},"axis":null},"y":{"field":"r","type":"nominal","scale":{"domain":["BCL2","MYD88","NEC","NOTCH2","SOCS1","TET2/SGK1"]},"axis":null},"color":{"field":"k","type":"quantitative","scale":{"domain":[-0.5,0,0.5],"range":["#3F67DE","#FFFFFF","#C23B2B"],"clamp":true,"interpolate":"lab"},"legend":null}}},
{"data":{"name":"kappa"},"transform":[{"filter":"datum.rg==='HMRN'&&datum.cg==='COO DZ'"}],"width":{"step":13.5},"height":{"step":13.5},"mark":"rect","encoding":{"x":{"field":"c","type":"nominal","scale":{"domain":["ABC","DZ","GCB","UNC"]},"axis":null},"y":{"field":"r","type":"nominal","scale":{"domain":["BCL2","MYD88","NEC","NOTCH2","SOCS1","TET2/SGK1"]},"axis":null},"color":{"field":"k","type":"quantitative","scale":{"domain":[-0.5,0,0.5],"range":["#3F67DE","#FFFFFF","#C23B2B"],"clamp":true,"interpolate":"lab"},"legend":null}}},
{"width":{"step":13.5},"height":{"step":13.5},"layer":[
{"data":{"name":"kappa"},"transform":[{"filter":"datum.rg==='HMRN'&&datum.cg==='LymphGen'"}],"mark":"rect","encoding":{"x":{"field":"c","type":"nominal","scale":{"domain":["A53","BN2","Composite","EZB","MCD","N1","Other","ST2"]},"axis":null},"y":{"field":"r","type":"nominal","scale":{"domain":["BCL2","MYD88","NEC","NOTCH2","SOCS1","TET2/SGK1"]},"axis":null},"color":{"field":"k","type":"quantitative","scale":{"domain":[-0.5,0,0.5],"range":["#3F67DE","#FFFFFF","#C23B2B"],"clamp":true,"interpolate":"lab"},"legend":null}}},
{"data":{"values":[{}]},"mark":{"type":"rule","strokeDash":[1,1.5],"color":"#333","xOffset":2.7,"x2Offset":23.5},"encoding":{"x":{"datum":"ST2","type":"nominal","bandPosition":1,"axis":null},"x2":{"datum":"ST2","bandPosition":1},"y":{"datum":"NEC","type":"nominal","bandPosition":1,"axis":null}}},
{"data":{"values":[{}]},"mark":{"type":"rule","strokeDash":[1,1.5],"color":"#333","xOffset":23.5},"encoding":{"x":{"datum":"ST2","type":"nominal","bandPosition":1,"axis":null},"y":{"datum":"NEC","type":"nominal","bandPosition":1,"axis":null},"y2":{"datum":"TET2/SGK1","bandPosition":1}}},
{"data":{"values":[{}]},"mark":{"type":"text","text":"HMRN","align":"left","baseline":"alphabetic","dx":27.5,"dy":-1.5,"fontSize":13,"fontWeight":"bold","color":"#000"},"encoding":{"x":{"datum":"ST2","type":"nominal","bandPosition":1,"axis":null},"y":{"datum":"NEC","type":"nominal","bandPosition":1,"axis":null}}}
]},
{"data":{"name":"empty"},"mark":"rect","width":1,"height":1,"view":{"stroke":null}},
{"data":{"name":"empty"},"mark":"rect","width":1,"height":1,"view":{"stroke":null}},
{"data":{"name":"empty"},"mark":"rect","width":1,"height":1,"view":{"stroke":null}},

{"data":{"name":"kappa"},"transform":[{"filter":"datum.rg==='LME'&&datum.cg==='EFS24'"}],"width":{"step":13.5},"height":{"step":13.5},"mark":"rect","encoding":{"x":{"field":"c","type":"nominal","scale":{"domain":["Achieved","Failed"]},"axis":null},"y":{"field":"r","type":"nominal","scale":{"domain":["DE","GC","IN","ME"]},"title":null},"color":{"field":"k","type":"quantitative","scale":{"domain":[-0.5,0,0.5],"range":["#3F67DE","#FFFFFF","#C23B2B"],"clamp":true,"interpolate":"lab"},"legend":null}}},
{"data":{"name":"kappa"},"transform":[{"filter":"datum.rg==='LME'&&datum.cg==='Risk Sig'"}],"width":{"step":13.5},"height":{"step":13.5},"mark":"rect","encoding":{"x":{"field":"c","type":"nominal","scale":{"domain":["High","Intermediate","Low"]},"axis":null},"y":{"field":"r","type":"nominal","scale":{"domain":["DE","GC","IN","ME"]},"axis":null},"color":{"field":"k","type":"quantitative","scale":{"domain":[-0.5,0,0.5],"range":["#3F67DE","#FFFFFF","#C23B2B"],"clamp":true,"interpolate":"lab"},"legend":null}}},
{"data":{"name":"kappa"},"transform":[{"filter":"datum.rg==='LME'&&datum.cg==='Integrated Risk Sig'"}],"width":{"step":13.5},"height":{"step":13.5},"mark":"rect","encoding":{"x":{"field":"c","type":"nominal","scale":{"domain":["High/ARID1A","Intermediate","Low"]},"axis":null},"y":{"field":"r","type":"nominal","scale":{"domain":["DE","GC","IN","ME"]},"axis":null},"color":{"field":"k","type":"quantitative","scale":{"domain":[-0.5,0,0.5],"range":["#3F67DE","#FFFFFF","#C23B2B"],"clamp":true,"interpolate":"lab"},"legend":null}}},
{"data":{"name":"kappa"},"transform":[{"filter":"datum.rg==='LME'&&datum.cg==='LymphProg'"}],"width":{"step":13.5},"height":{"step":13.5},"mark":"rect","encoding":{"x":{"field":"c","type":"nominal","scale":{"domain":["High","Low"]},"axis":null},"y":{"field":"r","type":"nominal","scale":{"domain":["DE","GC","IN","ME"]},"axis":null},"color":{"field":"k","type":"quantitative","scale":{"domain":[-0.5,0,0.5],"range":["#3F67DE","#FFFFFF","#C23B2B"],"clamp":true,"interpolate":"lab"},"legend":null}}},
{"data":{"name":"kappa"},"transform":[{"filter":"datum.rg==='LME'&&datum.cg==='COO DZ'"}],"width":{"step":13.5},"height":{"step":13.5},"mark":"rect","encoding":{"x":{"field":"c","type":"nominal","scale":{"domain":["ABC","DZ","GCB","UNC"]},"axis":null},"y":{"field":"r","type":"nominal","scale":{"domain":["DE","GC","IN","ME"]},"axis":null},"color":{"field":"k","type":"quantitative","scale":{"domain":[-0.5,0,0.5],"range":["#3F67DE","#FFFFFF","#C23B2B"],"clamp":true,"interpolate":"lab"},"legend":null}}},
{"data":{"name":"kappa"},"transform":[{"filter":"datum.rg==='LME'&&datum.cg==='LymphGen'"}],"width":{"step":13.5},"height":{"step":13.5},"mark":"rect","encoding":{"x":{"field":"c","type":"nominal","scale":{"domain":["A53","BN2","Composite","EZB","MCD","N1","Other","ST2"]},"axis":null},"y":{"field":"r","type":"nominal","scale":{"domain":["DE","GC","IN","ME"]},"axis":null},"color":{"field":"k","type":"quantitative","scale":{"domain":[-0.5,0,0.5],"range":["#3F67DE","#FFFFFF","#C23B2B"],"clamp":true,"interpolate":"lab"},"legend":null}}},
{"width":{"step":13.5},"height":{"step":13.5},"layer":[
{"data":{"name":"kappa"},"transform":[{"filter":"datum.rg==='LME'&&datum.cg==='HMRN'"}],"mark":"rect","encoding":{"x":{"field":"c","type":"nominal","scale":{"domain":["BCL2","MYD88","NEC","NOTCH2","SOCS1","TET2/SGK1"]},"axis":null},"y":{"field":"r","type":"nominal","scale":{"domain":["DE","GC","IN","ME"]},"axis":null},"color":{"field":"k","type":"quantitative","scale":{"domain":[-0.5,0,0.5],"range":["#3F67DE","#FFFFFF","#C23B2B"],"clamp":true,"interpolate":"lab"},"legend":null}}},
{"data":{"values":[{}]},"mark":{"type":"rule","strokeDash":[1,1.5],"color":"#333","xOffset":2.7,"x2Offset":23.5},"encoding":{"x":{"datum":"TET2/SGK1","type":"nominal","bandPosition":1,"axis":null},"x2":{"datum":"TET2/SGK1","bandPosition":1},"y":{"datum":"GC","type":"nominal","bandPosition":1,"axis":null}}},
{"data":{"values":[{}]},"mark":{"type":"rule","strokeDash":[1,1.5],"color":"#333","xOffset":23.5},"encoding":{"x":{"datum":"TET2/SGK1","type":"nominal","bandPosition":1,"axis":null},"y":{"datum":"GC","type":"nominal","bandPosition":1,"axis":null},"y2":{"datum":"ME","bandPosition":1}}},
{"data":{"values":[{}]},"mark":{"type":"text","text":"LME","align":"left","baseline":"alphabetic","dx":27.5,"dy":-1.5,"fontSize":13,"fontWeight":"bold","color":"#000"},"encoding":{"x":{"datum":"TET2/SGK1","type":"nominal","bandPosition":1,"axis":null},"y":{"datum":"GC","type":"nominal","bandPosition":1,"axis":null}}}
]},
{"data":{"name":"empty"},"mark":"rect","width":1,"height":1,"view":{"stroke":null}},
{"data":{"name":"empty"},"mark":"rect","width":1,"height":1,"view":{"stroke":null}},

{"data":{"name":"kappa"},"transform":[{"filter":"datum.rg==='Ecotype'&&datum.cg==='EFS24'"}],"width":{"step":13.5},"height":{"step":13.5},"mark":"rect","encoding":{"x":{"field":"c","type":"nominal","scale":{"domain":["Achieved","Failed"]},"axis":null},"y":{"field":"r","type":"nominal","scale":{"domain":["LE1","LE2","LE4","LE5","LE6","LE7","LE8","LE9","NA"]},"title":null},"color":{"field":"k","type":"quantitative","scale":{"domain":[-0.5,0,0.5],"range":["#3F67DE","#FFFFFF","#C23B2B"],"clamp":true,"interpolate":"lab"},"legend":null}}},
{"data":{"name":"kappa"},"transform":[{"filter":"datum.rg==='Ecotype'&&datum.cg==='Risk Sig'"}],"width":{"step":13.5},"height":{"step":13.5},"mark":"rect","encoding":{"x":{"field":"c","type":"nominal","scale":{"domain":["High","Intermediate","Low"]},"axis":null},"y":{"field":"r","type":"nominal","scale":{"domain":["LE1","LE2","LE4","LE5","LE6","LE7","LE8","LE9","NA"]},"axis":null},"color":{"field":"k","type":"quantitative","scale":{"domain":[-0.5,0,0.5],"range":["#3F67DE","#FFFFFF","#C23B2B"],"clamp":true,"interpolate":"lab"},"legend":null}}},
{"data":{"name":"kappa"},"transform":[{"filter":"datum.rg==='Ecotype'&&datum.cg==='Integrated Risk Sig'"}],"width":{"step":13.5},"height":{"step":13.5},"mark":"rect","encoding":{"x":{"field":"c","type":"nominal","scale":{"domain":["High/ARID1A","Intermediate","Low"]},"axis":null},"y":{"field":"r","type":"nominal","scale":{"domain":["LE1","LE2","LE4","LE5","LE6","LE7","LE8","LE9","NA"]},"axis":null},"color":{"field":"k","type":"quantitative","scale":{"domain":[-0.5,0,0.5],"range":["#3F67DE","#FFFFFF","#C23B2B"],"clamp":true,"interpolate":"lab"},"legend":null}}},
{"data":{"name":"kappa"},"transform":[{"filter":"datum.rg==='Ecotype'&&datum.cg==='LymphProg'"}],"width":{"step":13.5},"height":{"step":13.5},"mark":"rect","encoding":{"x":{"field":"c","type":"nominal","scale":{"domain":["High","Low"]},"axis":null},"y":{"field":"r","type":"nominal","scale":{"domain":["LE1","LE2","LE4","LE5","LE6","LE7","LE8","LE9","NA"]},"axis":null},"color":{"field":"k","type":"quantitative","scale":{"domain":[-0.5,0,0.5],"range":["#3F67DE","#FFFFFF","#C23B2B"],"clamp":true,"interpolate":"lab"},"legend":null}}},
{"data":{"name":"kappa"},"transform":[{"filter":"datum.rg==='Ecotype'&&datum.cg==='COO DZ'"}],"width":{"step":13.5},"height":{"step":13.5},"mark":"rect","encoding":{"x":{"field":"c","type":"nominal","scale":{"domain":["ABC","DZ","GCB","UNC"]},"axis":null},"y":{"field":"r","type":"nominal","scale":{"domain":["LE1","LE2","LE4","LE5","LE6","LE7","LE8","LE9","NA"]},"axis":null},"color":{"field":"k","type":"quantitative","scale":{"domain":[-0.5,0,0.5],"range":["#3F67DE","#FFFFFF","#C23B2B"],"clamp":true,"interpolate":"lab"},"legend":null}}},
{"data":{"name":"kappa"},"transform":[{"filter":"datum.rg==='Ecotype'&&datum.cg==='LymphGen'"}],"width":{"step":13.5},"height":{"step":13.5},"mark":"rect","encoding":{"x":{"field":"c","type":"nominal","scale":{"domain":["A53","BN2","Composite","EZB","MCD","N1","Other","ST2"]},"axis":null},"y":{"field":"r","type":"nominal","scale":{"domain":["LE1","LE2","LE4","LE5","LE6","LE7","LE8","LE9","NA"]},"axis":null},"color":{"field":"k","type":"quantitative","scale":{"domain":[-0.5,0,0.5],"range":["#3F67DE","#FFFFFF","#C23B2B"],"clamp":true,"interpolate":"lab"},"legend":null}}},
{"data":{"name":"kappa"},"transform":[{"filter":"datum.rg==='Ecotype'&&datum.cg==='HMRN'"}],"width":{"step":13.5},"height":{"step":13.5},"mark":"rect","encoding":{"x":{"field":"c","type":"nominal","scale":{"domain":["BCL2","MYD88","NEC","NOTCH2","SOCS1","TET2/SGK1"]},"axis":null},"y":{"field":"r","type":"nominal","scale":{"domain":["LE1","LE2","LE4","LE5","LE6","LE7","LE8","LE9","NA"]},"axis":null},"color":{"field":"k","type":"quantitative","scale":{"domain":[-0.5,0,0.5],"range":["#3F67DE","#FFFFFF","#C23B2B"],"clamp":true,"interpolate":"lab"},"legend":null}}},
{"width":{"step":13.5},"height":{"step":13.5},"layer":[
{"data":{"name":"kappa"},"transform":[{"filter":"datum.rg==='Ecotype'&&datum.cg==='LME'"}],"mark":"rect","encoding":{"x":{"field":"c","type":"nominal","scale":{"domain":["DE","GC","IN","ME"]},"axis":null},"y":{"field":"r","type":"nominal","scale":{"domain":["LE1","LE2","LE4","LE5","LE6","LE7","LE8","LE9","NA"]},"axis":null},"color":{"field":"k","type":"quantitative","scale":{"domain":[-0.5,0,0.5],"range":["#3F67DE","#FFFFFF","#C23B2B"],"clamp":true,"interpolate":"lab"},"legend":null}}},
{"data":{"values":[{}]},"mark":{"type":"rule","strokeDash":[1,1.5],"color":"#333","xOffset":2.7,"x2Offset":23.5},"encoding":{"x":{"datum":"ME","type":"nominal","bandPosition":1,"axis":null},"x2":{"datum":"ME","bandPosition":1},"y":{"datum":"LE6","type":"nominal","bandPosition":0.5,"axis":null}}},
{"data":{"values":[{}]},"mark":{"type":"rule","strokeDash":[1,1.5],"color":"#333","xOffset":23.5},"encoding":{"x":{"datum":"ME","type":"nominal","bandPosition":1,"axis":null},"y":{"datum":"LE6","type":"nominal","bandPosition":0.5,"axis":null},"y2":{"datum":"NA","bandPosition":1}}},
{"data":{"values":[{}]},"mark":{"type":"text","text":"Ecotype","align":"left","baseline":"alphabetic","dx":27.5,"dy":-1.5,"fontSize":13,"fontWeight":"bold","color":"#000"},"encoding":{"x":{"datum":"ME","type":"nominal","bandPosition":1,"axis":null},"y":{"datum":"LE6","type":"nominal","bandPosition":0.5,"axis":null}}}
]},
{"data":{"name":"empty"},"mark":"rect","width":1,"height":1,"view":{"stroke":null}},

{"data":{"name":"kappa"},"transform":[{"filter":"datum.rg==='TME26'&&datum.cg==='EFS24'"}],"width":{"step":13.5},"height":{"step":13.5},"mark":"rect","encoding":{"x":{"field":"c","type":"nominal","scale":{"domain":["Achieved","Failed"]},"title":null},"y":{"field":"r","type":"nominal","scale":{"domain":["Negative","Positive"]},"title":null},"color":{"field":"k","type":"quantitative","scale":{"domain":[-0.5,0,0.5],"range":["#3F67DE","#FFFFFF","#C23B2B"],"clamp":true,"interpolate":"lab"},"legend":null}}},
{"data":{"name":"kappa"},"transform":[{"filter":"datum.rg==='TME26'&&datum.cg==='Risk Sig'"}],"width":{"step":13.5},"height":{"step":13.5},"mark":"rect","encoding":{"x":{"field":"c","type":"nominal","scale":{"domain":["High","Intermediate","Low"]},"title":null},"y":{"field":"r","type":"nominal","scale":{"domain":["Negative","Positive"]},"axis":null},"color":{"field":"k","type":"quantitative","scale":{"domain":[-0.5,0,0.5],"range":["#3F67DE","#FFFFFF","#C23B2B"],"clamp":true,"interpolate":"lab"},"legend":null}}},
{"data":{"name":"kappa"},"transform":[{"filter":"datum.rg==='TME26'&&datum.cg==='Integrated Risk Sig'"}],"width":{"step":13.5},"height":{"step":13.5},"mark":"rect","encoding":{"x":{"field":"c","type":"nominal","scale":{"domain":["High/ARID1A","Intermediate","Low"]},"title":null},"y":{"field":"r","type":"nominal","scale":{"domain":["Negative","Positive"]},"axis":null},"color":{"field":"k","type":"quantitative","scale":{"domain":[-0.5,0,0.5],"range":["#3F67DE","#FFFFFF","#C23B2B"],"clamp":true,"interpolate":"lab"},"legend":null}}},
{"data":{"name":"kappa"},"transform":[{"filter":"datum.rg==='TME26'&&datum.cg==='LymphProg'"}],"width":{"step":13.5},"height":{"step":13.5},"mark":"rect","encoding":{"x":{"field":"c","type":"nominal","scale":{"domain":["High","Low"]},"title":null},"y":{"field":"r","type":"nominal","scale":{"domain":["Negative","Positive"]},"axis":null},"color":{"field":"k","type":"quantitative","scale":{"domain":[-0.5,0,0.5],"range":["#3F67DE","#FFFFFF","#C23B2B"],"clamp":true,"interpolate":"lab"},"legend":null}}},
{"data":{"name":"kappa"},"transform":[{"filter":"datum.rg==='TME26'&&datum.cg==='COO DZ'"}],"width":{"step":13.5},"height":{"step":13.5},"mark":"rect","encoding":{"x":{"field":"c","type":"nominal","scale":{"domain":["ABC","DZ","GCB","UNC"]},"title":null},"y":{"field":"r","type":"nominal","scale":{"domain":["Negative","Positive"]},"axis":null},"color":{"field":"k","type":"quantitative","scale":{"domain":[-0.5,0,0.5],"range":["#3F67DE","#FFFFFF","#C23B2B"],"clamp":true,"interpolate":"lab"},"legend":null}}},
{"data":{"name":"kappa"},"transform":[{"filter":"datum.rg==='TME26'&&datum.cg==='LymphGen'"}],"width":{"step":13.5},"height":{"step":13.5},"mark":"rect","encoding":{"x":{"field":"c","type":"nominal","scale":{"domain":["A53","BN2","Composite","EZB","MCD","N1","Other","ST2"]},"title":null},"y":{"field":"r","type":"nominal","scale":{"domain":["Negative","Positive"]},"axis":null},"color":{"field":"k","type":"quantitative","scale":{"domain":[-0.5,0,0.5],"range":["#3F67DE","#FFFFFF","#C23B2B"],"clamp":true,"interpolate":"lab"},"legend":null}}},
{"data":{"name":"kappa"},"transform":[{"filter":"datum.rg==='TME26'&&datum.cg==='HMRN'"}],"width":{"step":13.5},"height":{"step":13.5},"mark":"rect","encoding":{"x":{"field":"c","type":"nominal","scale":{"domain":["BCL2","MYD88","NEC","NOTCH2","SOCS1","TET2/SGK1"]},"title":null},"y":{"field":"r","type":"nominal","scale":{"domain":["Negative","Positive"]},"axis":null},"color":{"field":"k","type":"quantitative","scale":{"domain":[-0.5,0,0.5],"range":["#3F67DE","#FFFFFF","#C23B2B"],"clamp":true,"interpolate":"lab"},"legend":null}}},
{"data":{"name":"kappa"},"transform":[{"filter":"datum.rg==='TME26'&&datum.cg==='LME'"}],"width":{"step":13.5},"height":{"step":13.5},"mark":"rect","encoding":{"x":{"field":"c","type":"nominal","scale":{"domain":["DE","GC","IN","ME"]},"title":null},"y":{"field":"r","type":"nominal","scale":{"domain":["Negative","Positive"]},"axis":null},"color":{"field":"k","type":"quantitative","scale":{"domain":[-0.5,0,0.5],"range":["#3F67DE","#FFFFFF","#C23B2B"],"clamp":true,"interpolate":"lab"},"legend":null}}},
{"width":{"step":13.5},"height":{"step":13.5},"layer":[
{"data":{"name":"kappa"},"transform":[{"filter":"datum.rg==='TME26'&&datum.cg==='Ecotype'"}],"mark":"rect","encoding":{"x":{"field":"c","type":"nominal","scale":{"domain":["LE1","LE2","LE4","LE5","LE6","LE7","LE8","LE9","NA"]},"title":null},"y":{"field":"r","type":"nominal","scale":{"domain":["Negative","Positive"]},"axis":null},"color":{"field":"k","type":"quantitative","scale":{"domain":[-0.5,0,0.5],"range":["#3F67DE","#FFFFFF","#C23B2B"],"clamp":true,"interpolate":"lab"},"legend":null}}},
{"data":{"values":[{}]},"mark":{"type":"text","text":"TME26","align":"left","baseline":"middle","dx":7,"fontSize":13,"fontWeight":"bold","color":"#000"},"encoding":{"x":{"datum":"NA","type":"nominal","bandPosition":1,"title":null},"y":{"datum":"Negative","type":"nominal","bandPosition":1,"axis":null}}}
]}
]
}
